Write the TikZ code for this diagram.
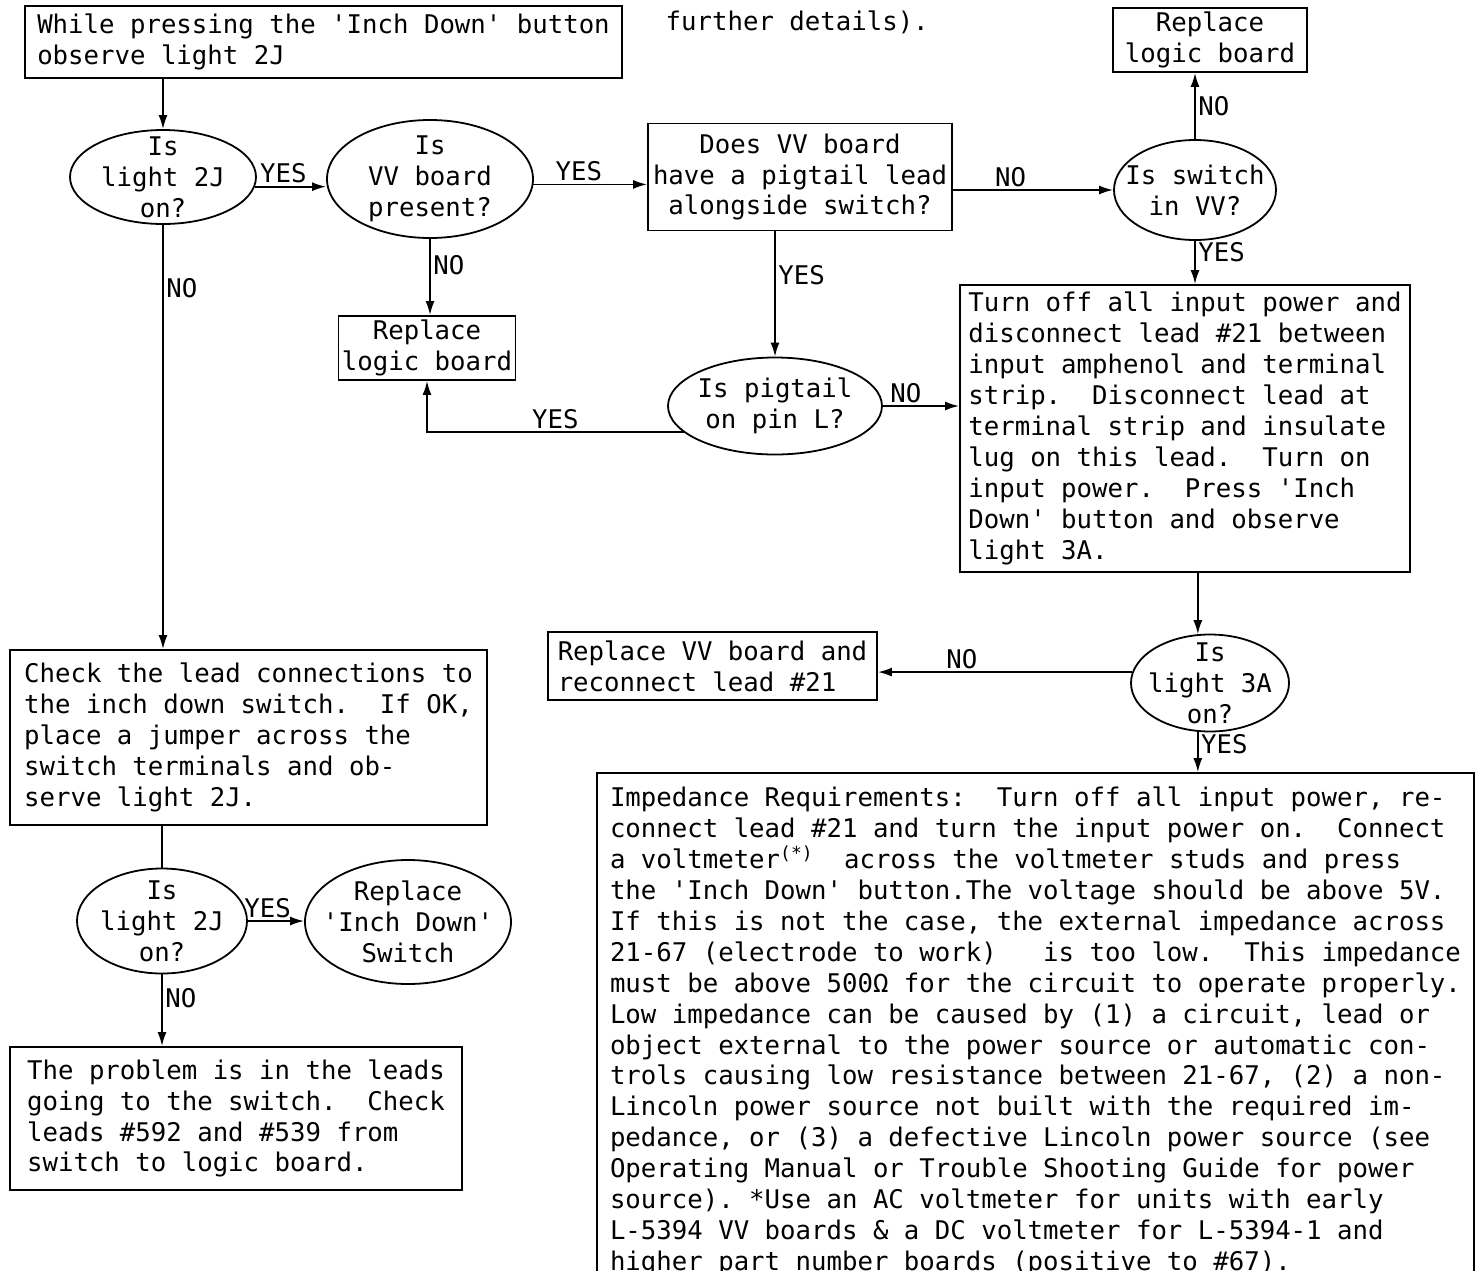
\documentclass[tikz,border=0pt]{standalone}
\usepackage{fontspec}
\setmonofont{DejaVu Sans Mono}
\usetikzlibrary{arrows.meta,shapes.geometric}
\newcommand{\chartfont}{\ttfamily\fontsize{25.7}{30.9}\selectfont}
\begin{document}
\frenchspacing
\begin{tikzpicture}[x=1pt, y=-1pt,
    stepbox/.style 2 args={draw, line width=1.8pt, font=\chartfont, align=left, inner sep=2pt, minimum width=#1pt, minimum height=#2pt},
    askoval/.style 2 args={ellipse, draw, line width=1.8pt, inner sep=0pt, minimum width=#1pt, minimum height=#2pt},
    asktext/.style={font=\chartfont, align=center, inner sep=0pt},
    answer/.style={font=\chartfont, inner sep=2.5pt},
    flow/.style={line width=1.8pt, -{Latex[length=14pt,width=9pt]}},
    plainline/.style={line width=1.8pt}]
    \useasboundingbox (0,0) rectangle (1476,1270);
    \node[answer, anchor=west] (note) at (663,22) {further details).};
    \node[stepbox={597}{72}] (start) at (323.5,42) {While pressing the 'Inch Down' button\\observe light 2J};
    \node[stepbox={194}{64}, align=center] (newlogic) at (1210,40) {Replace\\logic board};
    \node[askoval={186}{94}, label={[asktext]center:{Is\\light 2J\\on?}}] (lit2j) at (163,177) {};
    \node[askoval={206}{118}, label={[asktext]center:{Is\\VV board\\present?}}] (vvhere) at (430,179) {};
    \node[stepbox={304}{107}, align=center] (pigask) at (800,177) {Does VV board\\have a pigtail lead\\alongside switch?};
    \node[askoval={162}{100}, label={[asktext]center:{Is switch\\in VV?}}] (swvv) at (1195,190) {};
    \node[stepbox={177}{64}, align=center] (newlogicb) at (427,348) {Replace\\logic board};
    \node[askoval={214}{97}, label={[asktext]center:{Is pigtail\\on pin L?}}] (pinl) at (775,406) {};
    \node[stepbox={450}{287}] (unplug) at (1185,428.5) {Turn off all input power and\\
        disconnect lead \#21 between\\
        input amphenol and terminal\\
        strip.\ \ Disconnect lead at\\
        terminal strip and insulate\\
        lug on this lead.\ \ Turn on\\
        input power.\ \ Press 'Inch\\
        Down' button and observe\\
        light 3A.};
    \node[stepbox={329}{68}] (newvv) at (712.5,666) {Replace VV board and\\reconnect lead \#21};
    \node[askoval={158}{97}, label={[asktext]center:{Is\\light 3A\\on?}}] (lit3a) at (1210,683) {};
    \node[stepbox={877}{517}] (imped) at (1035.5,1031.5) {Impedance Requirements:\ \ Turn off all input power, re-\\
        connect lead \#21 and turn the input power on.\ \ Connect\\
        a voltmeter\textsuperscript{(*)}\ \ across the voltmeter studs and press\\
        the 'Inch Down' button.The voltage should be above 5V.\\
        If this is not the case, the external impedance across\\
        21-67 (electrode to work)\ \ \ is too low.\ \ This impedance\\
        must be above 500Ω for the circuit to operate properly.\\
        Low impedance can be caused by (1) a circuit, lead or\\
        object external to the power source or automatic con-\\
        trols causing low resistance between 21-67, (2) a non-\\
        Lincoln power source not built with the required im-\\
        pedance, or (3) a defective Lincoln power source (see\\
        Operating Manual or Trouble Shooting Guide for power\\
        source). *Use an AC voltmeter for units with early\\
        L-5394 VV boards \& a DC voltmeter for L-5394-1 and\\
        higher part number boards (positive to \#67).};
    \node[stepbox={477}{175}] (jumper) at (248.5,737.5) {Check the lead connections to\\
        the inch down switch.\ \ If OK,\\
        place a jumper across the\\
        switch terminals and ob-\\
        serve light 2J.};
    \node[askoval={170}{105}, label={[asktext]center:{Is\\light 2J\\on?}}] (litagain) at (162,921) {};
    \node[askoval={206}{124}, label={[asktext]center:{Replace\\'Inch Down'\\Switch}}] (newswitch) at (408,922) {};
    \node[stepbox={452}{143}] (leads) at (236,1118.5) {The problem is in the leads\\
        going to the switch.\ \ Check\\
        leads \#592 and \#539 from\\
        switch to logic board.};
    \draw[flow] (start.south -| lit2j.north) -- (lit2j.north);
    \draw[flow] (lit2j.-6) -- (lit2j.-6 -| vvhere.west) node[answer, above, pos=0.4] {YES};
    \draw[flow] (vvhere.-3) -- (vvhere.-3 -| pigask.west) node[answer, above, pos=0.4] {YES};
    \draw[flow] (pigask.east |- swvv.west) -- (swvv.west) node[answer, above, pos=0.36] {NO};
    \draw[flow] (swvv.north) -- (swvv.north |- newlogic.south) node[answer, right, pos=0.5] {NO};
    \draw[flow] (swvv.south) -- (swvv.south |- unplug.north) node[answer, right, pos=0.25] {YES};
    \draw[flow] (vvhere.south) -- (vvhere.south |- newlogicb.north) node[answer, right, pos=0.35] {NO};
    \draw[flow] (pigask.south -| pinl.north) -- (pinl.north) node[answer, right, pos=0.35] {YES};
    \draw[flow] (pinl.east) -- (pinl.east -| unplug.west) node[answer, above, pos=0.3] {NO};
    \draw[flow] (pinl.196) -| (newlogicb.south) node[answer, above, pos=0.25] {YES};
    \draw[flow] (lit2j.south) -- (lit2j.south |- jumper.north) node[answer, right, pos=0.15] {NO};
    \draw[plainline] (jumper.south -| litagain.north) -- (litagain.north);
    \draw[flow] (litagain.east) -- (litagain.east -| newswitch.west) node[answer, above, pos=0.35] {YES};
    \draw[flow] (litagain.south) -- (litagain.south |- leads.north) node[answer, right, pos=0.33] {NO};
    \draw[flow] (unplug.south -| lit3a.104) -- (lit3a.104);
    \draw[flow] (lit3a.172) -- (lit3a.172 -| newvv.east) node[answer, above, pos=0.67] {NO};
    \draw[flow] (lit3a.256) -- (lit3a.256 |- imped.north) node[answer, right, pos=0.3] {YES};
\end{tikzpicture}
\end{document}
